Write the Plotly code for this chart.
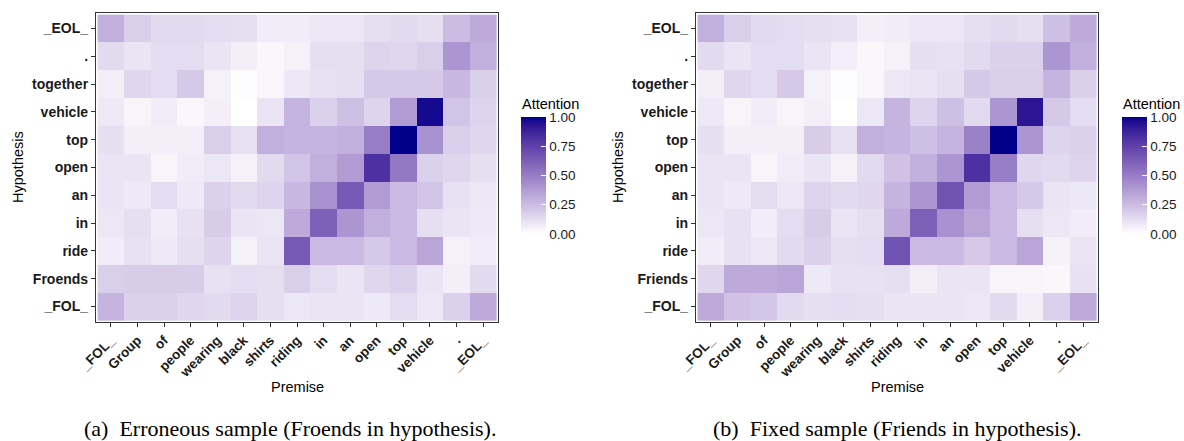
import numpy as np
import plotly.graph_objects as go

premise = ["_FOL_", "Group", "of", "people", "wearing", "black", "shirts", "riding",
           "in", "an", "open", "top", "vehicle", ".", "_EOL_"]
hyp_a = ["_FOL_", "Froends", "ride", "in", "an", "open", "top", "vehicle", "together", ".", "_EOL_"]
hyp_b = ["_FOL_", "Friends", "ride", "in", "an", "open", "top", "vehicle", "together", ".", "_EOL_"]

# rows listed bottom (_FOL_) to top (_EOL_); columns follow `premise`
att_a = [
    [0.28, 0.17, 0.17, 0.15, 0.14, 0.16, 0.12, 0.09, 0.10, 0.10, 0.08, 0.13, 0.09, 0.17, 0.32],
    [0.18, 0.19, 0.19, 0.19, 0.11, 0.13, 0.12, 0.18, 0.13, 0.10, 0.15, 0.17, 0.10, 0.06, 0.14],
    [0.07, 0.11, 0.08, 0.12, 0.16, 0.05, 0.10, 0.65, 0.26, 0.26, 0.20, 0.26, 0.34, 0.05, 0.07],
    [0.09, 0.12, 0.07, 0.11, 0.19, 0.10, 0.09, 0.32, 0.62, 0.40, 0.30, 0.26, 0.12, 0.10, 0.08],
    [0.10, 0.08, 0.13, 0.08, 0.17, 0.14, 0.16, 0.27, 0.42, 0.65, 0.38, 0.26, 0.22, 0.11, 0.09],
    [0.10, 0.10, 0.04, 0.07, 0.09, 0.05, 0.14, 0.22, 0.30, 0.38, 0.82, 0.52, 0.17, 0.15, 0.12],
    [0.12, 0.06, 0.06, 0.06, 0.18, 0.11, 0.30, 0.28, 0.28, 0.30, 0.50, 1.00, 0.42, 0.18, 0.15],
    [0.08, 0.04, 0.07, 0.03, 0.06, 0.00, 0.10, 0.28, 0.17, 0.24, 0.16, 0.38, 0.97, 0.22, 0.16],
    [0.06, 0.15, 0.13, 0.20, 0.05, 0.01, 0.03, 0.09, 0.11, 0.12, 0.20, 0.20, 0.20, 0.27, 0.18],
    [0.14, 0.10, 0.13, 0.13, 0.10, 0.06, 0.03, 0.05, 0.12, 0.12, 0.16, 0.15, 0.18, 0.40, 0.30],
    [0.30, 0.18, 0.14, 0.14, 0.13, 0.12, 0.07, 0.07, 0.09, 0.09, 0.12, 0.14, 0.12, 0.25, 0.32],
]
att_b = [
    [0.32, 0.23, 0.21, 0.14, 0.12, 0.13, 0.12, 0.10, 0.10, 0.10, 0.09, 0.14, 0.06, 0.17, 0.32],
    [0.15, 0.32, 0.32, 0.34, 0.08, 0.11, 0.11, 0.12, 0.06, 0.10, 0.10, 0.04, 0.04, 0.03, 0.11],
    [0.07, 0.11, 0.09, 0.14, 0.17, 0.12, 0.13, 0.68, 0.26, 0.26, 0.20, 0.26, 0.34, 0.05, 0.10],
    [0.09, 0.11, 0.07, 0.13, 0.19, 0.10, 0.12, 0.32, 0.62, 0.42, 0.34, 0.26, 0.12, 0.09, 0.07],
    [0.10, 0.08, 0.13, 0.09, 0.16, 0.14, 0.15, 0.28, 0.40, 0.68, 0.38, 0.26, 0.20, 0.10, 0.09],
    [0.10, 0.10, 0.04, 0.07, 0.10, 0.05, 0.14, 0.23, 0.30, 0.40, 0.82, 0.50, 0.15, 0.14, 0.16],
    [0.12, 0.06, 0.06, 0.06, 0.19, 0.11, 0.30, 0.28, 0.24, 0.28, 0.48, 1.00, 0.40, 0.16, 0.17],
    [0.08, 0.04, 0.07, 0.04, 0.06, 0.00, 0.09, 0.28, 0.16, 0.24, 0.14, 0.40, 0.93, 0.20, 0.13],
    [0.06, 0.15, 0.13, 0.20, 0.05, 0.01, 0.03, 0.09, 0.10, 0.12, 0.20, 0.18, 0.18, 0.28, 0.18],
    [0.14, 0.10, 0.13, 0.13, 0.10, 0.06, 0.03, 0.05, 0.12, 0.11, 0.14, 0.17, 0.17, 0.40, 0.30],
    [0.30, 0.18, 0.14, 0.13, 0.12, 0.11, 0.06, 0.07, 0.09, 0.09, 0.12, 0.14, 0.12, 0.24, 0.32],
]
cb_ticks = [0.0, 0.25, 0.5, 0.75, 1.0]
caption_a = "(a)  Erroneous sample (Froends in hypothesis)."
caption_b = "(b)  Fixed sample (Friends in hypothesis)."


# ---- Lab-space gradient white -> darkblue (like ggplot scale_fill_gradient) ----
def srgb_to_lin(c):
    c = np.asarray(c) / 255.0
    return np.where(c <= 0.04045, c / 12.92, ((c + 0.055) / 1.055) ** 2.4)

def lin_to_srgb(c):
    c = np.clip(c, 0, 1)
    return np.where(c <= 0.0031308, 12.92 * c, 1.055 * c ** (1 / 2.4) - 0.055) * 255

M = np.array([[0.4124, 0.3576, 0.1805], [0.2126, 0.7152, 0.0722], [0.0193, 0.1192, 0.9505]])
Minv = np.linalg.inv(M)
WP = np.array([0.95047, 1.0, 1.08883])

def f(t):
    return np.where(t > (6 / 29) ** 3, np.cbrt(t), t / (3 * (6 / 29) ** 2) + 4 / 29)

def finv(t):
    return np.where(t > 6 / 29, t ** 3, 3 * (6 / 29) ** 2 * (t - 4 / 29))

def rgb_to_lab(rgb):
    xyz = M @ srgb_to_lin(rgb) / WP
    fx, fy, fz = f(xyz)
    return np.array([116 * fy - 16, 500 * (fx - fy), 200 * (fy - fz)])

def lab_to_rgb(lab):
    L, a, b = lab
    fy = (L + 16) / 116
    xyz = np.array([finv(fy + a / 500), finv(fy), finv(fy - b / 200)]) * WP
    return lin_to_srgb(Minv @ xyz)

lo = rgb_to_lab([255, 255, 255])
hi = rgb_to_lab([0, 0, 139])
colorscale = []
for t in np.linspace(0, 1, 21):
    r, g, b = lab_to_rgb(lo + (hi - lo) * t)
    colorscale.append([float(t), f"rgb({int(round(r))},{int(round(g))},{int(round(b))})"])

fig = go.Figure()
fig.add_trace(go.Heatmap(z=att_a, x=premise, y=hyp_a, coloraxis="coloraxis",
                         xaxis="x", yaxis="y"))
fig.add_trace(go.Heatmap(z=att_b, x=premise, y=hyp_b, coloraxis="coloraxis2",
                         xaxis="x2", yaxis="y2"))

W, H = 1184, 441
ytop, ybot = 13, 322
dom_y = [1 - ybot / H, 1 - ytop / H]
SANS = "Liberation Sans, Arial, sans-serif"
tickfont = dict(family=SANS, size=13.5, color="#1a1a1a")
ann_font = dict(family=SANS, size=14.5, color="#000")

def xax(domain, anchor):
    return dict(domain=domain, anchor=anchor, range=[-0.56, 14.56], tickangle=-45,
                ticks="outside", ticklen=4, tickcolor="#333", showline=True, mirror=True,
                linecolor="#333", linewidth=1.2, showgrid=False, zeroline=False,
                automargin=False,
                tickfont=tickfont, tickprefix="<b>", ticksuffix="</b>", fixedrange=True)

def yax(domain, anchor):
    return dict(domain=domain, anchor=anchor, range=[-0.56, 10.56],
                ticks="outside", ticklen=4, tickcolor="#333", showline=True, mirror=True,
                linecolor="#333", linewidth=1.2, showgrid=False, zeroline=False,
                automargin=False,
                tickfont=dict(tickfont, size=14), tickprefix="<b>", ticksuffix="</b>",
                fixedrange=True)

def cax(xpx):
    return dict(cmin=0, cmax=1, colorscale=colorscale,
                colorbar=dict(x=xpx / W, xanchor="left", xref="paper",
                              y=1 - 117 / H, yanchor="top", len=117, lenmode="pixels",
                              thickness=25, thicknessmode="pixels", outlinewidth=0,
                              xpad=0, ypad=0,
                              tickvals=cb_ticks, tickformat=".2f", ticks="inside",
                              tickcolor="white", ticklen=5, tickwidth=1,
                              tickfont=dict(family=SANS, size=13.5, color="#1a1a1a")))

cap_font = dict(family="Liberation Serif, Times New Roman, serif", size=22, color="#000")
annotations = [
    dict(text="Premise", x=297 / W, y=1 - 387 / H, xref="paper", yref="paper",
         showarrow=False, font=ann_font, xanchor="center", yanchor="middle"),
    dict(text="Premise", x=897 / W, y=1 - 387 / H, xref="paper", yref="paper",
         showarrow=False, font=ann_font, xanchor="center", yanchor="middle"),
    dict(text="Hypothesis", x=18 / W, y=1 - 167 / H, xref="paper", yref="paper",
         showarrow=False, font=ann_font, textangle=-90, xanchor="center", yanchor="middle"),
    dict(text="Hypothesis", x=618 / W, y=1 - 167 / H, xref="paper", yref="paper",
         showarrow=False, font=ann_font, textangle=-90, xanchor="center", yanchor="middle"),
    dict(text="Attention", x=520 / W, y=1 - 104 / H, xref="paper", yref="paper",
         showarrow=False, font=ann_font, xanchor="left", yanchor="middle"),
    dict(text="Attention", x=1121 / W, y=1 - 104 / H, xref="paper", yref="paper",
         showarrow=False, font=ann_font, xanchor="left", yanchor="middle"),
    dict(text=caption_a, x=82 / W, y=1 - 428 / H, xref="paper", yref="paper",
         showarrow=False, font=cap_font, xanchor="left", yanchor="middle"),
    dict(text=caption_b, x=897 / W, y=1 - 428 / H, xref="paper", yref="paper",
         showarrow=False, font=cap_font, xanchor="center", yanchor="middle"),
]

fig.update_layout(
    width=W, height=H, margin=dict(l=0, r=0, t=0, b=0, autoexpand=False),
    paper_bgcolor="white", plot_bgcolor="white",
    xaxis=xax([96 / W, 498 / W], "y"), yaxis=yax(dom_y, "x"),
    xaxis2=xax([696 / W, 1098 / W], "y2"), yaxis2=yax(dom_y, "x2"),
    coloraxis=cax(521), coloraxis2=cax(1122),
    annotations=annotations, showlegend=False,
)

fig.write_html("out.html", config={"displayModeBar": False},
               post_script="document.body.style.margin='0';document.body.style.overflow='hidden';")
